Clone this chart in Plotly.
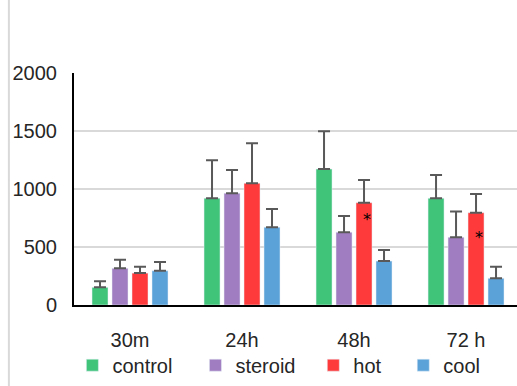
import plotly.graph_objects as go

categories = ["30m", "24h", "48h", "72 h"]
series_names = ["control", "steroid", "hot", "cool"]
colors = ["#40C47A", "#A07CC0", "#FF3A3A", "#5AA2D8"]

y_ticks = [0, 500, 1000, 1500, 2000]
y_tick_labels = ["0", "500", "1000", "1500", "2000"]

control = [152, 920, 1172, 920]
steroid = [316, 963, 627, 583]
hot = [275, 1049, 882, 796]
cool = [295, 670, 379, 230]

control_err = [53, 327, 325, 201]
steroid_err = [74, 201, 140, 224]
hot_err = [55, 345, 196, 161]
cool_err = [75, 158, 95, 100]

# significance markers on the "hot" series
star_categories = [2, 3]
star_values = [733, 586]

values = [control, steroid, hot, cool]
errors = [control_err, steroid_err, hot_err, cool_err]

FONT = "Liberation Sans, Arial, sans-serif"
FS = 20

legend_ids = ["legend", "legend2", "legend3", "legend4"]
legend_x = [0.140, 0.378, 0.606, 0.780]

fig = go.Figure()
for name, vals, err, col, lid in zip(series_names, values, errors, colors, legend_ids):
    fig.add_trace(go.Bar(
        name=name, x=categories, y=vals, marker_color=col, legend=lid,
        error_y=dict(type="data", symmetric=False, array=err,
                     arrayminus=[0] * len(err), color="#595959",
                     thickness=2, width=6),
    ))

slot = (1 - 0.286) / 4
for ci, v in zip(star_categories, star_values):
    fig.add_annotation(x=ci + 0.5 * slot + 0.03, y=v, xref="x", yref="y",
                       text="*", showarrow=False,
                       font=dict(family="DejaVu Sans", size=16, color="#000"))

fig.add_shape(type="line", xref="paper", yref="paper",
              x0=-0.147, x1=-0.147, y0=-0.4, y1=1.4,
              line=dict(color="#D9D9D9", width=2))

legends = {}
for lid, lx in zip(legend_ids, legend_x):
    legends[lid] = dict(orientation="h", x=lx, xanchor="left", xref="container",
                        y=0.054, yanchor="middle", yref="container", itemwidth=30,
                        bgcolor="rgba(0,0,0,0)",
                        font=dict(family=FONT, size=FS, color="#262626"))

fig.update_layout(
    width=517, height=386,
    margin=dict(l=74, r=0, t=73, b=81, autoexpand=False),
    paper_bgcolor="white", plot_bgcolor="white",
    barmode="group", bargap=0.286, bargroupgap=0.2,
    font=dict(family=FONT, size=FS, color="#262626"),
    showlegend=True,
    xaxis=dict(range=[-0.5, 3.455], showline=True, linecolor="#000",
               linewidth=2, ticks="", ticklen=0, ticklabelstandoff=16,
               showgrid=False, automargin=False),
    yaxis=dict(range=[0, 2000], tickvals=y_ticks, ticktext=y_tick_labels,
               showline=True, linecolor="#000", linewidth=2,
               showgrid=True, gridcolor="#D9D9D9", gridwidth=2,
               zeroline=False, ticks="", ticklen=0, ticklabelstandoff=11,
               automargin=False),
    **legends,
)

fig.write_html("out.html", config={"displayModeBar": False},
               post_script="document.body.style.margin='0px';document.body.style.overflow='hidden';")
